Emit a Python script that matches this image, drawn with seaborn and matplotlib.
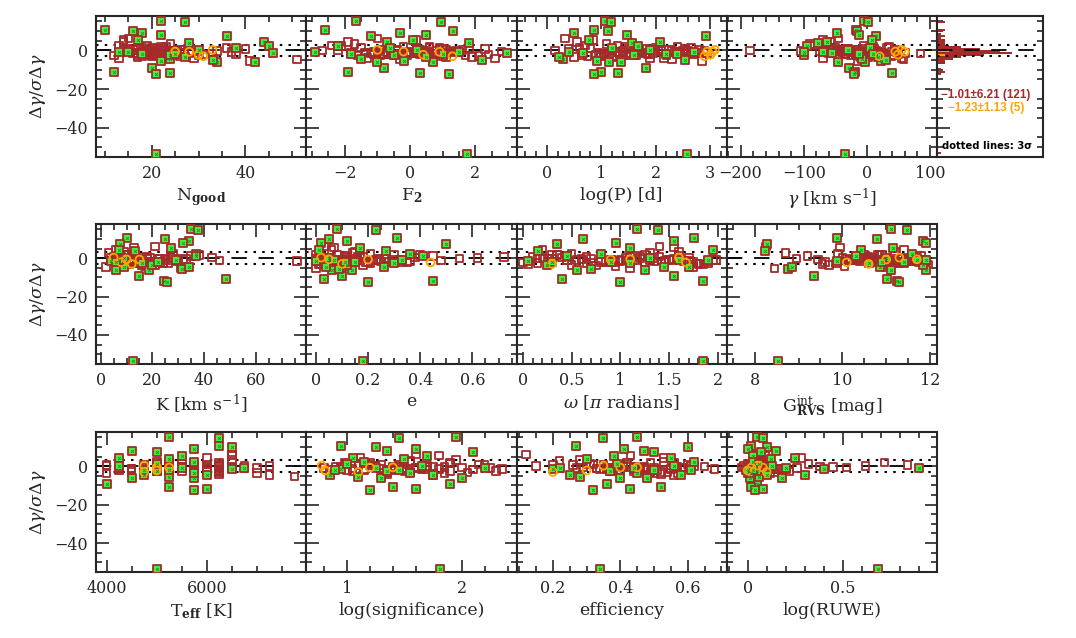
import numpy as np
import pandas as pd
import matplotlib
matplotlib.use("Agg")
import matplotlib.pyplot as plt
import matplotlib.transforms as mtrans
from matplotlib.ticker import MultipleLocator, FuncFormatter
import seaborn as sns

# ---- green (flagged) systems ----
g_dgam = [15.0, 14.8, 10.4, 10.2, 9.0, 8.0, 7.5, 5.2, 4.4, 3.6,
          2.4, -9.1, -10.9, -11.8, -12.3, -53.6, -6.2, -5.9, -5.5, -4.7,
          -4.5, -3.5, -2.6, -1.8, -1.5, -0.7, 0.3, 1.2, -1.0, -2.0]
g_ngood = [22, 27, 10, 16, 18, 22, 36, 17, 44, 28, 45, 20, 12, 24, 21,
           21, 42, 34, 22, 33, 24, 27, 24, 18, 46, 13, 30, 38, 15, 25]
g_f2 = [-1.66, 0.95, -2.6, 1.3, -0.3, 0.5, -1.2, 0.1, -0.7, 1.8,
        -2.2, -0.8, -1.9, 0.3, 1.2, 1.74, -1.0, 0.7, -0.2, 2.2,
        -1.5, 0.5, -0.5, 1.0, 2.98, -2.9, 0.2, -0.6, 1.5, -1.8]
g_logp = [1.06, 1.18, 0.87, 1.12, 0.50, 1.47, 2.93, 0.78, 2.08, 1.56,
          1.68, 1.82, 0.99, 1.30, 0.87, 2.57, 1.37, 1.15, 0.93, 2.55,
          0.30, 0.22, 1.6, 2.2, 0.66, 2.7, 1.9, 1.2, 0.4, 2.4]
g_gamma = [-5, 2, -17, -15, -47, -13, 14, 8, -63, -78, -95, -28, -19, 40, -21,
           -35, -46, -3, 22, 30, -8, 18, -100, -12, -55, -100, -30, 5, -70, 10]
g_k = [35, 37.5, 10.3, 25, 34.2, 31.8, 7.6, 27.3, 7, 13.3, 37, 14.8, 48.6, 24.4, 25.6,
       12.5, 5.8, 18.6, 31.5, 34, 9, 20, 16, 22, 4, 29, 9, 37, 7, 6]
g_e = [0.08, 0.23, 0.31, 0.05, 0.12, 0.02, 0.5, 0.17, 0.01, 0.27,
       0.36, 0.1, 0.03, 0.45, 0.2, 0.18, 0.06, 0.14, 0.09, 0.26,
       0.04, 0.12, 0.3, 0.15, 0.0, 0.33, 0.05, 0.41, 0.07, 0.11]
g_omega = [1.17, 1.38, 1.75, 0.62, 1.55, 0.95, 0.35, 1.1, 1.95, 0.15,
           0.8, 1.55, 0.4, 1.85, 1.0, 1.85, 0.55, 1.25, 0.7, 1.45,
           1.7, 0.25, 1.1, 0.9, 0.05, 1.6, 1.3, 0.45, 1.9, 0.3]
g_grvs = [11.12, 11.48, 9.88, 10.78, 11.83, 11.92, 8.27, 11.16, 10.42, 8.23,
          11.6, 9.35, 11.02, 11.24, 11.3, 8.53, 11.1, 11.92, 8.75, 8.85,
          10.86, 11.83, 10.6, 11.4, 9.87, 11.7, 11.0, 10.3, 11.9, 10.9]
g_teff = [5250, 6250, 6250, 6500, 5750, 4500, 5000, 5500, 4250, 5250,
          5750, 4000, 5250, 6000, 5750, 5000, 5750, 4500, 5250, 4750,
          6000, 5750, 5000, 5250, 6500, 6750, 4250, 5000, 5500, 4750]
g_logsig = [1.95, 1.45, 0.95, 1.25, 1.6, 1.35, 2.1, 1.7, 1.05, 1.5,
            1.15, 1.9, 1.4, 1.6, 1.2, 1.81, 1.3, 2.0, 1.1, 1.75,
            0.85, 1.55, 1.35, 1.45, 0.95, 1.25, 1.65, 1.0, 2.2, 0.9]
g_eff = [0.45, 0.35, 0.27, 0.6, 0.41, 0.47, 0.5, 0.38, 0.55, 0.3,
         0.62, 0.36, 0.52, 0.43, 0.32, 0.34, 0.4, 0.48, 0.28, 0.58,
         0.25, 0.45, 0.37, 0.5, 0.2, 0.44, 0.56, 0.39, 0.22, 0.61]
g_ruwe = [0.05, 0.08, 0.02, 0.1, 0.0, 0.15, 0.07, 0.03, 0.25, 0.12,
          0.03, 0.05, 0.02, 0.08, 0.04, 0.686, 0.18, 0.01, 0.06, 0.3,
          0.1, 0.02, 0.05, 0.0, 0.4, 0.9, 0.13, 0.06, 0.2, 0.03]

# ---- brown (open) systems ----
b_dgam = [0.5, -1.2, -2.0, 0.8, -0.3, -1.8, 1.5, -2.6, -0.9, 0.2,
          -1.5, -3.1, 2.2, -0.6, -2.3, 1.0, -1.1, -0.2, -3.8, 0.6,
          -1.7, -2.8, 1.8, -0.4, -1.3, 6.1, -2.1, 0.1, -0.8, -4.2,
          2.6, -1.6, -0.5, -2.5, 1.2, -1.0, -3.3, 0.4, -1.9, -0.1,
          5.5, -2.2, -0.7, -1.4, 0.9, -2.9, -0.3, -1.2, 3.4, -5.4,
          -0.9, -1.8, 0.3, -2.4, -0.6, 1.6, -1.1, -3.6, 0.0, -1.5,
          -0.2, -2.7, 4.3, -1.3, -0.8, 2.0, -2.0, -4.6, 0.7, -1.0]
b_ngood = [14, 17, 19, 21, 23, 25, 18, 20, 22, 16,
           24, 26, 19, 28, 30, 17, 21, 23, 13, 15,
           20, 18, 22, 25, 27, 15, 31, 19, 24, 29,
           13, 33, 20, 22, 36, 18, 23, 26, 38, 21,
           14, 17, 19, 25, 22, 20, 34, 16, 24, 41,
           18, 21, 27, 23, 30, 20, 26, 17, 19, 22,
           25, 12, 14, 28, 37, 23, 21, 51, 40, 24]
b_f2 = [-0.4, 0.6, -1.1, 0.2, 1.4, -0.8, 0.9, -1.6, 0.0, 1.1,
        -0.3, 0.7, -2.1, 0.4, -0.9, 1.8, -0.1, 0.5, -1.3, 2.3,
        -0.6, 1.0, -0.2, 0.8, -1.8, -1.0, 0.3, 1.6, -0.7, 2.6,
        -2.4, 0.1, 1.2, -0.5, 0.6, -1.4, 1.9, -0.9, 0.4, -2.7,
        0.2, -0.2, 1.3, -1.2, 0.9, 2.1, -0.4, 0.0, -1.7, 0.7,
        1.5, -0.8, 0.3, -0.1, 2.8, -1.5, 0.5, 1.1, -2.2, 0.8,
        -0.6, 1.7, -1.9, 0.2, -1.1, 0.6, 2.4, -0.3, 1.0, -1.0]
b_logp = [1.2, 1.5, 0.9, 1.8, 2.1, 1.1, 0.6, 1.4, 2.4, 1.7,
          2.6, 1.0, 1.3, 2.0, 2.2, 0.8, 1.6, 2.5, 1.9, 0.4,
          2.7, 1.25, 1.45, 2.3, 0.95, 0.33, 1.85, 2.8, 1.35, 2.15,
          0.7, 1.55, 2.45, 1.05, 2.65, 1.75, 0.5, 2.05, 1.15, 2.9,
          0.85, 1.65, 2.35, 1.95, 2.55, 0.75, 1.4, 2.75, 1.1, 2.85,
          1.3, 1.9, 2.25, 0.65, 1.6, 2.0, 2.5, 1.2, 0.15, 1.8,
          2.6, 1.45, 0.55, 2.95, 1.7, 2.4, 1.0, 2.3, 1.5, 2.7]
b_gamma = [-20, 5, -35, 12, -8, 25, -50, 0, 18, -15,
           -60, 30, -5, 40, -25, 8, -40, 15, -70, -30,
           22, -12, 35, -45, 3, -45, -18, 45, -2, 55,
           -85, 10, -28, 28, -55, 20, -10, -38, 50, -65,
           -70, 14, -22, 6, -32, 38, -48, 60, -90, -15,
           -6, 26, -42, 16, -75, 32, -26, 2, -185, 85,
           -105, 42, -58, -14, 48, 10, -34, 58, -3, 24]
b_k = [8, 12, 15, 6, 18, 22, 10, 14, 26, 4,
       9, 17, 28, 11, 20, 7, 13, 30, 16, 5,
       19, 24, 9, 33, 14, 21, 11, 27, 6, 17,
       3, 12, 23, 15, 35, 8, 20, 43, 10, 25,
       13, 7, 16, 29, 18, 11, 22, 46, 9, 31,
       14, 5, 19, 26, 12, 38, 8, 21, 16, 76,
       10, 24, 6, 15, 32, 13, 18, 2, 27, 11]
b_e = [0.02, 0.10, 0.05, 0.18, 0.0, 0.25, 0.08, 0.13, 0.3, 0.04,
       0.15, 0.01, 0.21, 0.07, 0.35, 0.11, 0.03, 0.27, 0.06, 0.16,
       0.0, 0.09, 0.4, 0.12, 0.22, 0.03, 0.19, 0.05, 0.32, 0.08,
       0.14, 0.0, 0.24, 0.06, 0.45, 0.1, 0.02, 0.17, 0.28, 0.55,
       0.07, 0.2, 0.01, 0.36, 0.12, 0.04, 0.26, 0.09, 0.15, 0.0,
       0.23, 0.05, 0.38, 0.11, 0.02, 0.3, 0.08, 0.18, 0.62, 0.13,
       0.01, 0.21, 0.06, 0.48, 0.16, 0.0, 0.33, 0.1, 0.72, 0.04]
b_omega = [0.1, 0.45, 0.8, 1.2, 1.55, 1.9, 0.3, 0.65, 1.0, 1.35,
           1.7, 0.05, 0.5, 0.9, 1.25, 1.6, 1.95, 0.2, 0.75, 1.1,
           1.45, 1.8, 0.35, 0.6, 1.05, 1.4, 1.75, 0.15, 0.55, 0.95,
           1.3, 1.65, 0.25, 0.7, 1.15, 1.5, 1.85, 0.4, 0.85, 1.2,
           1.55, 0.0, 0.6, 1.0, 1.4, 1.8, 0.3, 0.8, 1.6, 1.1,
           0.45, 1.35, 1.7, 0.15, 0.9, 1.25, 1.98, 0.5, 1.05, 1.45,
           0.7, 1.9, 0.2, 1.15, 1.5, 0.35, 0.95, 1.75, 0.65, 1.3]
b_grvs = [10.5, 11.2, 10.8, 11.6, 10.1, 11.9, 10.9, 11.4, 10.3, 11.7,
          10.7, 11.1, 9.9, 11.5, 10.6, 11.8, 10.2, 11.3, 10.95, 11.65,
          10.4, 11.05, 10.85, 11.45, 10.15, 8.25, 11.25, 10.65, 11.85, 10.05,
          8.7, 11.55, 10.45, 11.15, 9.2, 10.75, 11.95, 10.55, 11.35, 8.95,
          9.95, 11.75, 10.35, 11.0, 10.6, 9.55, 11.5, 10.25, 11.2, 8.45,
          10.9, 11.6, 10.0, 11.3, 9.45, 10.8, 11.9, 9.7, 10.4, 11.1,
          10.7, 9.85, 11.4, 10.2, 11.8, 10.5, 9.6, 11.0, 10.3, 11.65]
b_teff = [4000, 4250, 4500, 4750, 5000, 5250, 5500, 5750, 6000, 6250,
          4250, 4500, 5000, 5250, 5750, 6000, 6250, 6500, 4000, 4250,
          4500, 5000, 5250, 5500, 6000, 6500, 6250, 6750, 7000, 6250,
          4250, 4750, 5000, 5250, 5750, 6000, 6250, 4000, 4500, 5500,
          6500, 4250, 5000, 5250, 5750, 6000, 6250, 4500, 6500, 7750,
          4250, 5000, 5250, 5500, 6000, 6250, 6750, 7000, 7250, 4500,
          5750, 6250, 6000, 4250, 5000, 5250, 6000, 7250, 6250, 4750]
b_logsig = [1.1, 1.3, 1.5, 1.2, 1.7, 1.4, 1.9, 1.05, 1.6, 1.25,
            1.8, 1.35, 1.55, 2.0, 1.15, 1.45, 1.65, 0.95, 1.75, 1.3,
            2.1, 1.5, 1.2, 1.85, 1.4, 1.6, 1.0, 1.7, 2.25, 1.35,
            1.55, 0.85, 1.45, 1.9, 1.1, 1.65, 2.05, 1.25, 1.5, 0.9,
            1.8, 1.4, 1.6, 1.15, 2.15, 1.35, 1.75, 1.05, 1.95, 1.3,
            1.5, 1.7, 1.2, 2.3, 1.45, 0.98, 1.6, 1.85, 1.25, 2.35,
            1.4, 1.55, 1.12, 1.65, 0.8, 1.9, 1.35, 1.75, 2.2, 1.5]
b_eff = [0.42, 0.38, 0.51, 0.35, 0.47, 0.55, 0.31, 0.44, 0.58, 0.4,
         0.36, 0.49, 0.53, 0.29, 0.45, 0.6, 0.33, 0.41, 0.5, 0.26,
         0.46, 0.39, 0.56, 0.43, 0.34, 0.12, 0.48, 0.62, 0.37, 0.52,
         0.22, 0.44, 0.57, 0.4, 0.3, 0.47, 0.54, 0.35, 0.5, 0.65,
         0.43, 0.38, 0.59, 0.46, 0.32, 0.52, 0.41, 0.55, 0.28, 0.48,
         0.36, 0.45, 0.61, 0.39, 0.5, 0.42, 0.33, 0.57, 0.15, 0.68,
         0.44, 0.37, 0.53, 0.47, 0.27, 0.49, 0.4, 0.56, 0.2, 0.45]
b_ruwe = [0.02, 0.05, -0.01, 0.08, 0.03, 0.12, 0.0, 0.06, 0.1, 0.04,
          0.15, 0.01, 0.07, -0.03, 0.09, 0.02, 0.18, 0.05, 0.0, 0.11,
          0.03, 0.22, 0.06, 0.01, 0.13, 0.04, 0.08, -0.02, 0.26, 0.03,
          0.07, 0.0, 0.1, 0.05, 0.32, 0.02, 0.14, 0.06, 0.01, 0.38,
          0.09, 0.04, 0.0, 0.16, 0.03, 0.07, 0.45, 0.02, 0.11, 0.05,
          0.0, 0.2, 0.06, 0.03, 0.52, 0.08, 0.01, 0.12, 0.62, 0.04,
          0.07, 0.0, 0.28, 0.05, 0.02, 0.72, 0.09, 0.03, 0.84, 0.06]

# ---- orange systems ----
o_dgam = [-2.2, 0.3, -3.0, -0.6, -0.7]
o_ngood = [30, 33, 31, 25, 28]
o_f2 = [0.4, -1.0, 1.3, -0.2, 0.9]
o_logp = [3.01, 3.09, 2.9, 2.95, 3.05]
o_gamma = [49, 55, 20, 45, 60]
o_k = [8, 5, 12, 10, 15]
o_e = [0.44, 0.02, 0.1, 0.05, 0.2]
o_omega = [1.67, 1.6, 0.3, 1.1, 0.9]
o_grvs = [10.1, 11.3, 10.6, 11.7, 11.0]
o_teff = [5000, 4750, 4750, 5000, 5250]
o_logsig = [0.81, 0.78, 1.1, 1.4, 1.2]
o_eff = [0.3, 0.35, 0.2, 0.45, 0.4]
o_ruwe = [0.0, 0.05, 0.1, 0.02, 0.08]

stat_main = "\u22121.01\u00b16.21 (121)"
stat_orange = "\u22121.23\u00b11.13 (5)"

BROWN = "#a52a2a"
GREEN = "#3cf03c"
DKGREEN = "#2a8a2a"
ORANGE = "#ffa500"

COLS = ["ngood", "f2", "logp", "gamma", "k", "e", "omega", "grvs",
        "teff", "logsig", "eff", "ruwe"]


def make_df(dgam, cols):
    df = pd.DataFrame(dict(zip(COLS, cols)))
    df["dgam"] = dgam
    return df


green = make_df(g_dgam, [g_ngood, g_f2, g_logp, g_gamma, g_k, g_e, g_omega,
                         g_grvs, g_teff, g_logsig, g_eff, g_ruwe])
brown = make_df(b_dgam, [b_ngood, b_f2, b_logp, b_gamma, b_k, b_e, b_omega,
                         b_grvs, b_teff, b_logsig, b_eff, b_ruwe])
orange = make_df(o_dgam, [o_ngood, o_f2, o_logp, o_gamma, o_k, o_e, o_omega,
                          o_grvs, o_teff, o_logsig, o_eff, o_ruwe])
allmain = pd.concat([green, brown], ignore_index=True)

sns.set_style("ticks")
plt.rcParams["font.family"] = ["DejaVu Serif"]
plt.rcParams["mathtext.fontset"] = "dejavuserif"
plt.rcParams["axes.linewidth"] = 1.5

YLIM = (-55.1, 17.8)

# column, label, xlim, major, minor
panels = [
    [("ngood", r"N$_{\mathbf{good}}$", (8.1, 53.0), 20, 5),
     ("f2", r"F$_{\mathbf{2}}$", (-3.18, 3.26), 2, 0.5),
     ("logp", "log(P) [d]", (-0.56, 3.31), 1, 0.2),
     ("gamma", r"$\gamma$ [km s$^{-1}$]", (-222, 111), 100, 20)],
    [("k", r"K [km s$^{-1}$]", (-1.8, 79.5), 20, 5),
     ("e", "e", (-0.037, 0.769), 0.2, 0.05),
     ("omega", r"$\omega$ [$\pi$ radians]", (-0.066, 2.09), 0.5, 0.1),
     ("grvs", r"G$^{\rm int}_{\mathbf{RVS}}$ [mag]", (7.36, 12.16), 2, 0.5)],
    [("teff", r"T$_{\mathit{\mathbf{eff}}}$ [K]", (3787, 7987), 2000, 500),
     ("logsig", "log(significance)", (0.646, 2.477), 1, 0.2),
     ("eff", "efficiency", (0.092, 0.716), 0.2, 0.05),
     ("ruwe", "log(RUWE)", (-0.11, 0.995), 0.5, 0.1)],
]
rows = [(0.7539, 0.2210), (0.4295, 0.2194), (0.1034, 0.2194)]
left0 = 96 / 1076
pw = 210.25 / 1076

plain = FuncFormatter(lambda v, p: f"{v:g}".replace("-", "\u2212"))


def style_axis(ax):
    ax.tick_params(which="both", direction="in", top=True, right=True,
                   width=1.2, labelsize=11.5, pad=6)
    ax.tick_params(which="major", length=9)
    ax.tick_params(which="minor", length=4.5)
    ax.yaxis.set_major_locator(MultipleLocator(20))
    ax.yaxis.set_minor_locator(MultipleLocator(5))
    ax.yaxis.set_major_formatter(plain)
    ax.set_ylim(*YLIM)


def ref_lines(ax):
    ax.axhline(0, color="black", lw=1.3, ls=(0, (8.5, 6.5)), zorder=1)
    for yy in (3, -3):
        ax.axhline(yy, color="black", lw=1.5, ls=(0, (1.2, 3.0)), zorder=1)


fig = plt.figure(figsize=(10.76, 6.38), dpi=100)

for r, row in enumerate(panels):
    bottom, height = rows[r]
    for c, (col, label, xlim, major, minor) in enumerate(row):
        ax = fig.add_axes([left0 + c * pw, bottom, pw, height])
        ref_lines(ax)
        sns.scatterplot(data=brown, x=col, y="dgam", marker="s", s=30,
                        facecolor="none", edgecolor=BROWN, linewidth=1.3,
                        ax=ax, legend=False, zorder=3)
        sns.scatterplot(data=green, x=col, y="dgam", marker="s", s=30,
                        facecolor=GREEN, edgecolor=BROWN, linewidth=1.3,
                        ax=ax, legend=False, zorder=4)
        sns.scatterplot(data=green, x=col, y="dgam", marker="x", s=4,
                        color=DKGREEN, linewidth=0.6, ax=ax, legend=False,
                        zorder=5)
        sns.scatterplot(data=orange, x=col, y="dgam", marker="o", s=32,
                        facecolor="none", edgecolor=ORANGE, linewidth=1.3,
                        ax=ax, legend=False, zorder=4)
        style_axis(ax)
        ax.set_xlim(*xlim)
        ax.xaxis.set_major_locator(MultipleLocator(major))
        ax.xaxis.set_minor_locator(MultipleLocator(minor))
        ax.xaxis.set_major_formatter(plain)
        ax.set_xlabel(label, fontsize=12.5, labelpad=3)
        if c == 0:
            ax.set_ylabel(r"$\Delta\gamma/\sigma\Delta\gamma$", fontsize=12.5,
                          labelpad=4)
        else:
            ax.set_ylabel("")
            ax.tick_params(labelleft=False)

# histogram panel
bottom, height = rows[0]
axh = fig.add_axes([left0 + 4 * pw, bottom, 106 / 1076, height])
sns.histplot(data=allmain, y="dgam", binwidth=1, element="step", fill=True,
             color=BROWN, alpha=1, linewidth=0, ax=axh)
sns.histplot(data=orange, y="dgam", binwidth=1, element="step", fill=True,
             color=ORANGE, alpha=1, linewidth=0, ax=axh)
ref_lines(axh)
style_axis(axh)
axh.set_xlim(0, axh.get_xlim()[1] * 1.35)
axh.tick_params(labelleft=False, labelbottom=False, bottom=False, top=False,
                right=False)
axh.set_xlabel("")
axh.set_ylabel("")
tr = mtrans.blended_transform_factory(axh.transAxes, axh.transData)
axh.text(0.04, -23, stat_main, color=BROWN, fontsize=8.4, fontweight="bold",
         transform=tr, va="center", family="Liberation Sans")
axh.text(0.10, -29.8, stat_orange, color=ORANGE, fontsize=8.4,
         fontweight="bold", transform=tr, va="center", family="Liberation Sans")
axh.text(0.05, -49.5, "dotted lines: 3\u03c3", color="black", fontsize=7.2,
         fontweight="bold", transform=tr, va="center", family="DejaVu Sans")

fig.savefig("out.png", dpi=100)
